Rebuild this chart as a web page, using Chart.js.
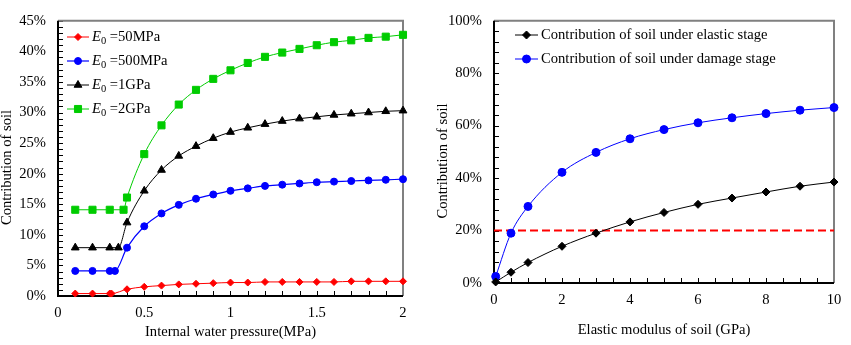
<!DOCTYPE html>
<html>
<head>
<meta charset="utf-8">
<script src="https://cdn.jsdelivr.net/npm/chart.js@4.4.1/dist/chart.umd.min.js"></script>
<style>
  html, body { margin: 0; padding: 0; background: #fff; }
  #wrap { position: relative; width: 851px; height: 345px; }
  #pressureChart { position: absolute; left: 0; top: 0; }
  #modulusChart { position: absolute; left: 425px; top: 0; }
</style>
</head>
<body>
<div id="wrap">
  <canvas id="pressureChart" width="425" height="345"></canvas>
  <canvas id="modulusChart" width="426" height="345"></canvas>
</div>
<script>
// ---- left: internal water pressure (MPa) -> contribution of soil (%)
const pressure50MPa  = [0.1, 0.2, 0.3, 0.31, 0.4, 0.5, 0.6, 0.7, 0.8, 0.9, 1.0, 1.1, 1.2, 1.3, 1.4, 1.5, 1.6, 1.7, 1.8, 1.9, 2.0];
const pressure500MPa = [0.1, 0.2, 0.3, 0.33, 0.4, 0.5, 0.6, 0.7, 0.8, 0.9, 1.0, 1.1, 1.2, 1.3, 1.4, 1.5, 1.6, 1.7, 1.8, 1.9, 2.0];
const pressure1GPa   = [0.1, 0.2, 0.3, 0.35, 0.4, 0.5, 0.6, 0.7, 0.8, 0.9, 1.0, 1.1, 1.2, 1.3, 1.4, 1.5, 1.6, 1.7, 1.8, 1.9, 2.0];
const pressure2GPa   = [0.1, 0.2, 0.3, 0.38, 0.4, 0.5, 0.6, 0.7, 0.8, 0.9, 1.0, 1.1, 1.2, 1.3, 1.4, 1.5, 1.6, 1.7, 1.8, 1.9, 2.0];

const soil50MPa  = [0.4, 0.4, 0.4, 0.4, 1.1, 1.5, 1.7, 1.9, 2.0, 2.1, 2.2, 2.2, 2.3, 2.3, 2.3, 2.3, 2.3, 2.4, 2.4, 2.4, 2.4];
const soil500MPa = [4.1, 4.1, 4.1, 4.1, 7.9, 11.4, 13.5, 14.9, 15.9, 16.6, 17.2, 17.6, 18.0, 18.2, 18.4, 18.6, 18.7, 18.8, 18.9, 19.0, 19.1];
const soil1GPa   = [7.9, 7.9, 7.9, 7.9, 12.0, 17.2, 20.6, 22.9, 24.5, 25.8, 26.8, 27.5, 28.1, 28.6, 29.0, 29.3, 29.6, 29.8, 30.0, 30.2, 30.3];
const soil2GPa   = [14.1, 14.1, 14.1, 14.1, 16.1, 23.2, 27.9, 31.3, 33.7, 35.5, 36.9, 38.1, 39.1, 39.8, 40.4, 41.0, 41.5, 41.8, 42.2, 42.4, 42.7];

// ---- right: elastic modulus of soil (GPa) -> contribution of soil (%)
const modulus      = [0.05, 0.5, 1, 2, 3, 4, 5, 6, 7, 8, 9, 10];
const elasticStage = [0.4, 4.1, 7.8, 14.0, 19.0, 23.3, 26.9, 30.0, 32.4, 34.7, 36.9, 38.5];
const damageStage  = [2.5, 19.0, 29.2, 42.2, 49.8, 55.0, 58.5, 61.1, 63.0, 64.6, 65.9, 66.9];
const limitX = [0, 10];
const limitY = [20, 20];

const toPoints = (xs, ys) => xs.map((x, i) => ({ x: x, y: ys[i] }));

Chart.defaults.font.family = '"Liberation Serif", "Times New Roman", serif';
Chart.defaults.font.size = 14.6;
Chart.defaults.color = '#000';

// plot box + little inward ticks
const frame = {
  id: 'frame',
  beforeDatasetsDraw(chart, args, opts) {
    const { ctx, chartArea: a, scales: { x, y } } = chart;
    ctx.save();
    ctx.strokeStyle = '#000';
    ctx.lineWidth = 1;
    ctx.beginPath();
    for (let v = y.min; v <= y.max + 1e-9; v += opts.yMinor) {
      const py = Math.round(y.getPixelForValue(v)) + 0.5;
      ctx.moveTo(a.left, py);
      ctx.lineTo(a.left + 5, py);
    }
    for (let v = x.min; v <= x.max + 1e-9; v += opts.xMinor) {
      const px = Math.round(x.getPixelForValue(v)) + 0.5;
      ctx.moveTo(px, a.bottom);
      ctx.lineTo(px, a.bottom - 5);
    }
    ctx.stroke();

    ctx.lineWidth = 2;
    ctx.strokeStyle = '#808080';
    ctx.beginPath();
    ctx.moveTo(a.left, a.top);
    ctx.lineTo(a.right, a.top);
    ctx.lineTo(a.right, a.bottom);
    ctx.stroke();

    ctx.strokeStyle = '#000';
    ctx.beginPath();
    ctx.moveTo(a.left, a.top);
    ctx.lineTo(a.left, a.bottom);
    ctx.lineTo(a.right, a.bottom);
    ctx.stroke();
    ctx.restore();
  }
};

// legend drawn as line + marker, label parts allow italic / subscript
const lineLegend = {
  id: 'lineLegend',
  afterDatasetsDraw(chart, args, opts) {
    const ctx = chart.ctx;
    ctx.save();
    opts.labels.forEach((parts, i) => {
      const ds = chart.data.datasets[i];
      const y = opts.top + i * opts.gap;
      ctx.strokeStyle = ds.borderColor;
      ctx.lineWidth = ds.borderWidth;
      ctx.beginPath();
      ctx.moveTo(opts.left, y);
      ctx.lineTo(opts.left + opts.width, y);
      ctx.stroke();
      ctx.fillStyle = ds.pointBackgroundColor;
      ctx.strokeStyle = ds.pointBorderColor;
      ctx.lineWidth = 1;
      Chart.helpers.drawPoint(ctx, { pointStyle: ds.pointStyle, radius: ds.pointRadius, rotation: 0, borderWidth: 1 },
        opts.left + opts.width / 2, y);

      let tx = opts.left + opts.width + 3;
      ctx.fillStyle = '#000';
      ctx.textAlign = 'left';
      ctx.textBaseline = 'middle';
      parts.forEach(p => {
        ctx.font = (p.italic ? 'italic ' : '') + (p.sub ? 10.5 : 14.6) + 'px "Liberation Serif"';
        ctx.fillText(p.text, tx, p.sub ? y + 4 : y);
        tx += ctx.measureText(p.text).width;
      });
    });
    ctx.restore();
  }
};

function series(label, xs, ys, color, style, radius, width) {
  return {
    label: label,
    data: toPoints(xs, ys),
    borderColor: color,
    backgroundColor: color,
    pointBackgroundColor: color,
    pointBorderColor: color,
    pointStyle: style,
    pointRadius: radius,
    pointBorderWidth: 1,
    borderWidth: width,
    cubicInterpolationMode: 'monotone',
    clip: false
  };
}

function axes(xOpts, yOpts) {
  return {
    x: {
      type: 'linear', min: xOpts.min, max: xOpts.max,
      ticks: { stepSize: xOpts.step, padding: 8, callback: v => String(v) },
      grid: { display: false, drawTicks: false },
      border: { display: false },
      title: { display: true, text: xOpts.title, padding: { top: 0, bottom: xOpts.titlePad } },
      afterFit(s) { s.height = xOpts.size; }
    },
    y: {
      min: yOpts.min, max: yOpts.max,
      ticks: { stepSize: yOpts.step, padding: 12, callback: v => v + '%' },
      grid: { display: false, drawTicks: false },
      border: { display: false },
      title: { display: true, text: yOpts.title, font: { lineHeight: yOpts.lineHeight }, padding: { top: yOpts.titlePad, bottom: 0 } },
      afterFit(s) { s.width = yOpts.size; }
    }
  };
}

new Chart(document.getElementById('pressureChart'), {
  type: 'line',
  data: {
    datasets: [
      series('E0=50MPa', pressure50MPa, soil50MPa, '#FF0000', 'rectRot', 3.5, 1),
      series('E0=500MPa', pressure500MPa, soil500MPa, '#0000FF', 'circle', 3.5, 1.2),
      series('E0=1GPa', pressure1GPa, soil1GPa, '#000000', 'triangle', 4.5, 1),
      series('E0=2GPa', pressure2GPa, soil2GPa, '#00CC00', 'rect', 5, 1)
    ]
  },
  options: {
    responsive: false,
    animation: false,
    layout: { padding: { top: 20, right: 22, left: 0, bottom: 0 } },
    plugins: {
      legend: { display: false },
      tooltip: { enabled: false },
      frame: { xMinor: 0.1, yMinor: 1 },
      lineLegend: {
        left: 67, width: 22, top: 37, gap: 24,
        labels: [
          [{ text: 'E', italic: true }, { text: '0', sub: true }, { text: ' =50MPa' }],
          [{ text: 'E', italic: true }, { text: '0', sub: true }, { text: ' =500MPa' }],
          [{ text: 'E', italic: true }, { text: '0', sub: true }, { text: ' =1GPa' }],
          [{ text: 'E', italic: true }, { text: '0', sub: true }, { text: ' =2GPa' }]
        ]
      }
    },
    scales: axes(
      { min: 0, max: 2, step: 0.5, title: 'Internal water pressure(MPa)', titlePad: 4, size: 49 },
      { min: 0, max: 45, step: 5, title: 'Contribution of soil     ', titlePad: 0, lineHeight: 1, size: 58 }
    )
  },
  plugins: [frame, lineLegend]
});

new Chart(document.getElementById('modulusChart'), {
  type: 'line',
  data: {
    datasets: [
      series('Contribution of soil under elastic stage', modulus, elasticStage, '#000000', 'rectRot', 4, 1),
      series('Contribution of soil under damage stage', modulus, damageStage, '#0000FF', 'circle', 4, 1),
      Object.assign(series('20%', limitX, limitY, '#FF0000', 'circle', 0, 2), { borderDash: [8, 4] })
    ]
  },
  options: {
    responsive: false,
    animation: false,
    layout: { padding: { top: 16, right: 17, left: 0, bottom: 0 } },
    plugins: {
      legend: { display: false },
      tooltip: { enabled: false },
      frame: { xMinor: 0.5, yMinor: 4 },
      lineLegend: {
        left: 90, width: 23, top: 35, gap: 24,
        labels: [
          [{ text: 'Contribution of soil under elastic stage' }],
          [{ text: 'Contribution of soil under damage stage' }]
        ]
      }
    },
    scales: axes(
      { min: 0, max: 10, step: 2, title: 'Elastic modulus of soil (GPa)', titlePad: 6, size: 62 },
      { min: 0, max: 100, step: 20, title: 'Contribution of soil     ', titlePad: 9, lineHeight: 1.2, size: 69 }
    )
  },
  plugins: [frame, lineLegend]
});
</script>
</body>
</html>
